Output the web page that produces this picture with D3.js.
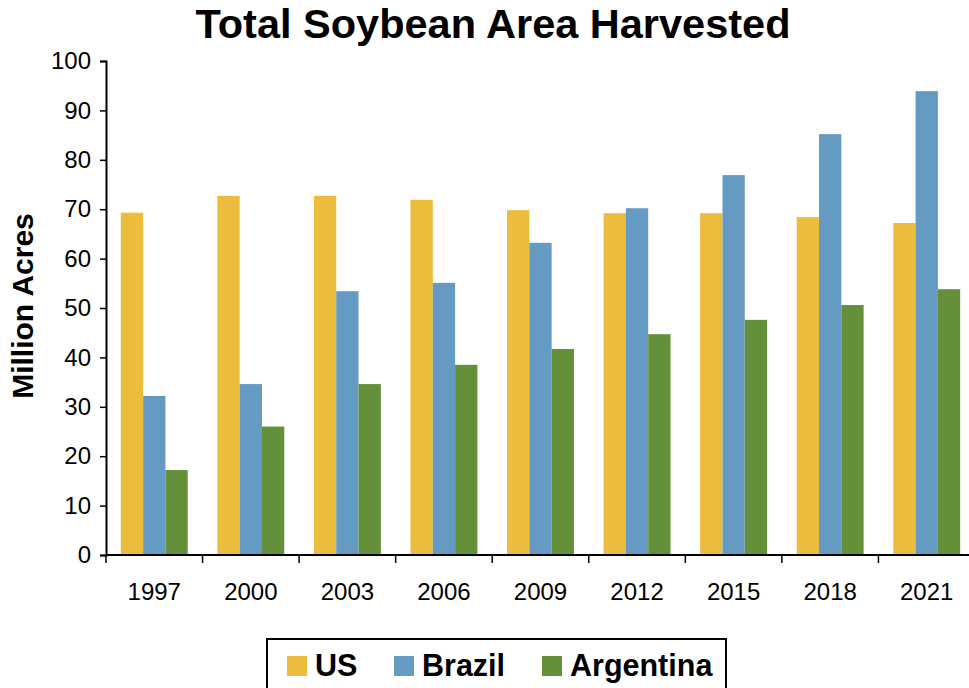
<!DOCTYPE html>
<html>
<head>
<meta charset="utf-8">
<script src="https://cdn.jsdelivr.net/npm/d3@7"></script>
<style>
  html, body { margin: 0; padding: 0; background: #fff; }
  svg { display: block; font-family: "Liberation Sans", Arial, sans-serif; }
</style>
</head>
<body>
<svg id="chart" width="969" height="688"></svg>
<script>
// Harvested soybean area, million acres
const years = ["1997", "2000", "2003", "2006", "2009", "2012", "2015", "2018", "2021"];
const seriesNames = ["US", "Brazil", "Argentina"];
const usValues = [69.3, 72.7, 72.7, 71.9, 69.8, 69.2, 69.2, 68.4, 67.2];
const brazilValues = [32.2, 34.6, 53.4, 55.1, 63.2, 70.2, 76.9, 85.2, 93.9];
const argentinaValues = [17.2, 26.0, 34.6, 38.5, 41.7, 44.7, 47.6, 50.6, 53.8];
const yTicks = [0, 10, 20, 30, 40, 50, 60, 70, 80, 90, 100];
const seriesColors = ["#ECBD3C", "#659AC3", "#64903A"];

const seriesValues = [usValues, brazilValues, argentinaValues];
const rows = years.map((yr, i) => ({
  year: yr,
  values: seriesNames.map((s, j) => ({ series: s, value: seriesValues[j][i] }))
}));

const svg = d3.select("#chart");
const plotLeft = 106, plotRight = 975, plotTop = 61, plotBottom = 555;

const x0 = d3.scaleBand().domain(years).range([plotLeft, plotRight])
  .paddingInner(0.307).paddingOuter(0.1535);
const x1 = d3.scaleBand().domain(seriesNames).range([0, x0.bandwidth()]);
const y = d3.scaleLinear().domain([0, 100]).range([plotBottom, plotTop]);
const color = d3.scaleOrdinal().domain(seriesNames).range(seriesColors);

// Title
svg.append("text")
  .attr("x", 493).attr("y", 38)
  .attr("text-anchor", "middle")
  .attr("font-size", 41.5).attr("font-weight", "bold")
  .text("Total Soybean Area Harvested");

// Bars
const groups = svg.append("g").selectAll("g").data(rows).join("g")
  .attr("transform", d => `translate(${x0(d.year)},0)`);
groups.selectAll("rect").data(d => d.values).join("rect")
  .attr("x", d => x1(d.series))
  .attr("y", d => y(d.value))
  .attr("width", x1.bandwidth())
  .attr("height", d => y(0) - y(d.value))
  .attr("fill", d => color(d.series));

// Y axis
const yAxis = svg.append("g")
  .attr("transform", `translate(${plotLeft},0)`)
  .call(d3.axisLeft(y).tickValues(yTicks).tickSize(6).tickPadding(9));
yAxis.select(".domain").attr("stroke", "#000").attr("stroke-width", 2);
yAxis.selectAll(".tick line").attr("stroke", "#000").attr("stroke-width", 1.5);
yAxis.selectAll(".tick text")
  .attr("font-size", 24).attr("fill", "#000")
  .attr("font-family", "Liberation Sans, Arial, sans-serif");

// X axis: baseline with ticks between categories
const xAxis = svg.append("g");
xAxis.append("line")
  .attr("x1", plotLeft).attr("x2", plotRight)
  .attr("y1", plotBottom).attr("y2", plotBottom)
  .attr("stroke", "#000").attr("stroke-width", 2);
const step = x0.step();
xAxis.selectAll("line.tick").data(d3.range(years.length + 1)).join("line")
  .attr("class", "tick")
  .attr("x1", i => plotLeft + i * step).attr("x2", i => plotLeft + i * step)
  .attr("y1", plotBottom).attr("y2", plotBottom + 8)
  .attr("stroke", "#000").attr("stroke-width", 1.5);
xAxis.selectAll("text").data(years).join("text")
  .attr("x", d => x0(d) + x0.bandwidth() / 2)
  .attr("y", 600)
  .attr("text-anchor", "middle")
  .attr("font-size", 24)
  .text(d => d);

// Y axis title
svg.append("text")
  .attr("transform", "translate(33,306) rotate(-90)")
  .attr("text-anchor", "middle")
  .attr("font-size", 30).attr("font-weight", "bold")
  .text("Million Acres");

// Legend
const legend = svg.append("g");
legend.append("rect")
  .attr("x", 267).attr("y", 639)
  .attr("width", 459).attr("height", 70)
  .attr("fill", "#fff").attr("stroke", "#000").attr("stroke-width", 2);
const legendX = [287, 394, 542];
const items = legend.selectAll("g.item").data(seriesNames).join("g")
  .attr("class", "item")
  .attr("transform", (d, i) => `translate(${legendX[i]},656)`);
items.append("rect")
  .attr("width", 20).attr("height", 20)
  .attr("fill", d => color(d));
items.append("text")
  .attr("x", 28).attr("y", 20)
  .attr("font-size", 30.5).attr("font-weight", "bold")
  .text(d => d);
</script>
</body>
</html>
